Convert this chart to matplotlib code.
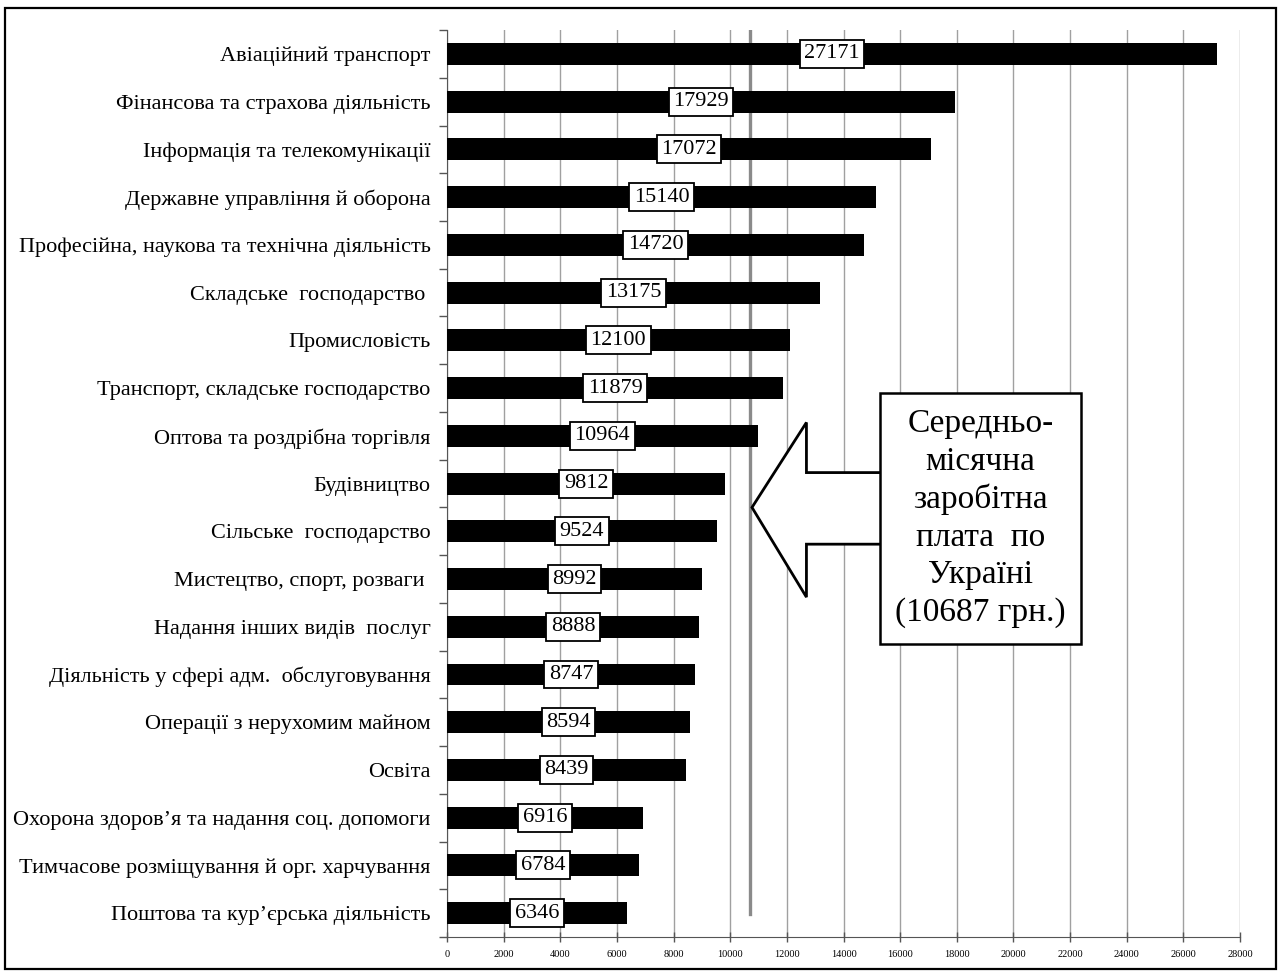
import matplotlib
matplotlib.use("Agg")
import matplotlib.pyplot as plt
from matplotlib.patches import Polygon, Rectangle

plt.rcParams["font.family"] = ["Liberation Serif", "DejaVu Serif"]

sectors = [
    "Авіаційний транспорт",
    "Фінансова та страхова діяльність",
    "Інформація та телекомунікації",
    "Державне управління й оборона",
    "Професійна, наукова та технічна діяльність",
    "Складське  господарство ",
    "Промисловість",
    "Транспорт, складське господарство",
    "Оптова та роздрібна торгівля",
    "Будівництво",
    "Сільське  господарство",
    "Мистецтво, спорт, розваги ",
    "Надання інших видів  послуг",
    "Діяльність у сфері адм.  обслуговування",
    "Операції з нерухомим майном",
    "Освіта",
    "Охорона здоров’я та надання соц. допомоги",
    "Тимчасове розміщування й орг. харчування",
    "Поштова та кур’єрська діяльність",
]
wages = [27171, 17929, 17072, 15140, 14720, 13175, 12100, 11879, 10964,
         9812, 9524, 8992, 8888, 8747, 8594, 8439, 6916, 6784, 6346]
avg_wage = 10687
avg_text = "Середньо-\nмісячна\nзаробітна\nплата  по\nУкраїні\n(10687 грн.)"

x_ticks = list(range(0, 28001, 2000))

fig = plt.figure(figsize=(12.81, 9.71), dpi=100)
ax = fig.add_axes([0.349, 0.035, 0.619, 0.934])

pos = list(range(len(sectors)))
ax.barh(pos, wages, height=0.46, color="black", zorder=3)

# value tags in the middle of each bar
for y, w in zip(pos, wages):
    ax.text(w / 2, y, str(w), ha="center", va="center", fontsize=16, zorder=5,
            bbox=dict(boxstyle="square,pad=0.2", fc="white", ec="black", lw=1.3))

ax.set_ylim(len(sectors) - 0.5, -0.5)
ax.set_xlim(0, 28000)
ax.set_xticks(x_ticks)
ax.set_xticklabels([str(t) for t in x_ticks], fontsize=7.5)
ax.tick_params(axis="x", direction="inout", length=7, width=1, color="#555555", pad=6)

ax.set_yticks(pos)
ax.set_yticklabels(sectors, fontsize=16)
ax.tick_params(axis="y", which="major", length=0, pad=12)
ax.set_yticks([p + 0.5 for p in range(-1, len(sectors))], minor=True)
ax.tick_params(axis="y", which="minor", length=6, width=1, color="#555555")

ax.grid(axis="x", color="#a0a0a0", lw=1, zorder=0)
for side in ("top", "right"):
    ax.spines[side].set_visible(False)
for side in ("left", "bottom"):
    ax.spines[side].set_color("#555555")

# national average line
ax.axvline(avg_wage, ymin=0.025, ymax=1, color="#8a8a8a", lw=2.4, zorder=2)

# callout arrow pointing at the average line
tip = avg_wage + 80
arrow = Polygon([(tip, 9.5), (12690, 7.72), (12690, 8.77), (15400, 8.77),
                 (15400, 10.27), (12690, 10.27), (12690, 11.38)],
                closed=True, fc="white", ec="black", lw=2, zorder=6)
ax.add_patch(arrow)
ax.add_patch(Rectangle((15300, 7.1), 7070, 5.26, fc="white", ec="black",
                       lw=1.8, zorder=7))
ax.text(18835, 9.73, avg_text, ha="center", va="center", fontsize=24,
        linespacing=1.3, zorder=8)

fig.add_artist(Rectangle((0.004, 0.002), 0.992, 0.99, transform=fig.transFigure,
                         fill=False, ec="black", lw=1.6))

fig.savefig("out.png", dpi=100)
